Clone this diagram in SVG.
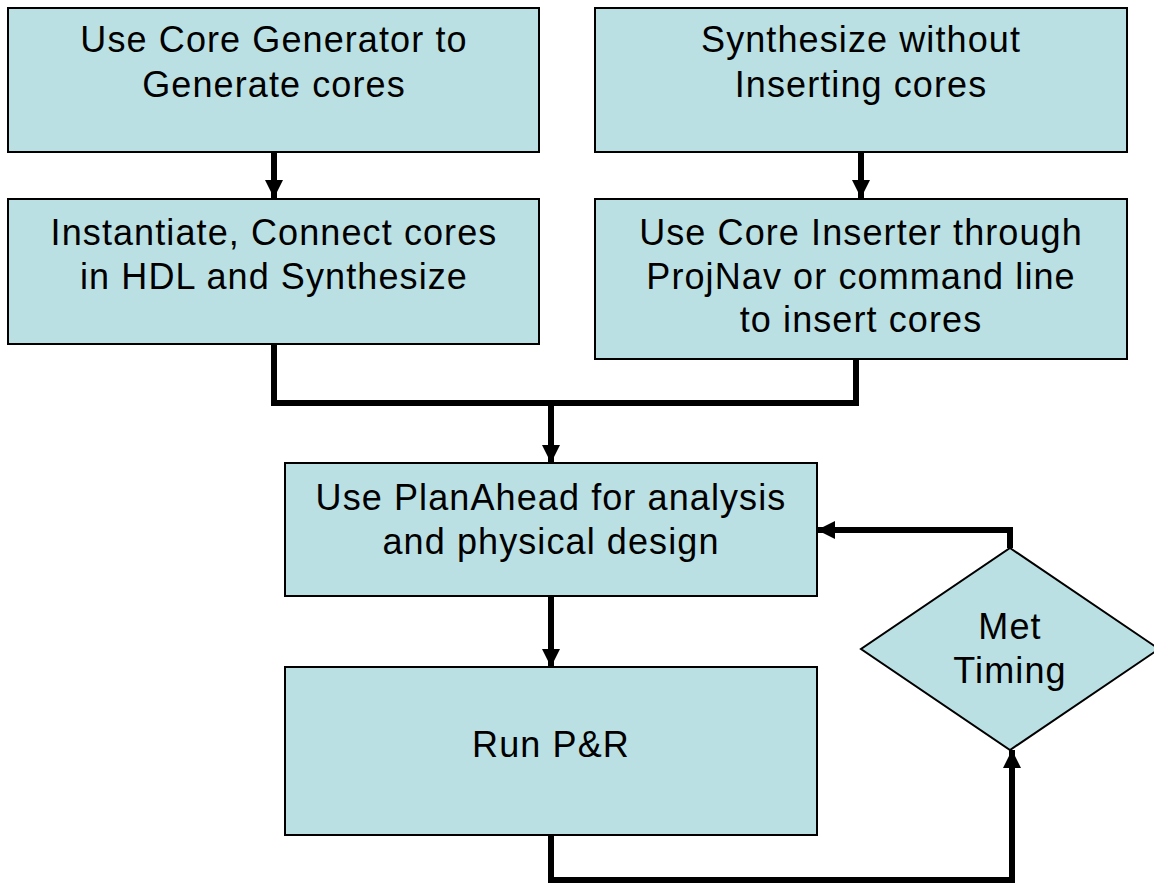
<svg xmlns="http://www.w3.org/2000/svg" width="1154" height="886" viewBox="0 0 1154 886">
<style>
.box{fill:#BBE0E3;stroke:#000;stroke-width:2}
.t{font-family:"Liberation Sans",Arial,sans-serif;font-size:36px;letter-spacing:1.1px;fill:#000;text-anchor:middle}
.c{fill:none;stroke:#000;stroke-width:6}
</style>
<defs>
<marker id="ah" markerUnits="userSpaceOnUse" markerWidth="18" markerHeight="18" viewBox="0 0 18 18" refX="18" refY="9" orient="auto">
<path d="M0,0 L18,9 L0,18 Z" fill="#000"/>
</marker>
</defs>
<rect width="1154" height="886" fill="#fff"/>
<g id="connectors">
<line class="c" x1="274" y1="152" x2="274" y2="198" marker-end="url(#ah)"/>
<line class="c" x1="861" y1="152" x2="861" y2="198" marker-end="url(#ah)"/>
<polyline class="c" points="274,344 274,403 856,403 856,360"/>
<line class="c" x1="551" y1="403" x2="551" y2="463" marker-end="url(#ah)"/>
<line class="c" x1="551" y1="596" x2="551" y2="667" marker-end="url(#ah)"/>
<polyline class="c" points="551,835 551,880 1012,880 1012,750" marker-end="url(#ah)"/>
<polyline class="c" points="1010,548 1010,530 817,530" marker-end="url(#ah)"/>
</g>
<g id="n1">
<rect class="box" x="8" y="8" width="531" height="144"/>
<text class="t" x="274" y="52">Use Core Generator to</text>
<text class="t" x="274" y="97">Generate cores</text>
</g>
<g id="n2">
<rect class="box" x="595" y="8" width="532" height="144"/>
<text class="t" x="861" y="52">Synthesize without</text>
<text class="t" x="861" y="97">Inserting cores</text>
</g>
<g id="n3">
<rect class="box" x="8" y="199" width="531" height="145"/>
<text class="t" x="274" y="245">Instantiate, Connect cores</text>
<text class="t" x="274" y="289">in HDL and Synthesize</text>
</g>
<g id="n4">
<rect class="box" x="595" y="199" width="532" height="160"/>
<text class="t" x="861" y="245">Use Core Inserter through</text>
<text class="t" x="861" y="289">ProjNav or command line</text>
<text class="t" x="861" y="332">to insert cores</text>
</g>
<g id="n5">
<rect class="box" x="285" y="463" width="532" height="133"/>
<text class="t" x="551" y="510">Use PlanAhead for analysis</text>
<text class="t" x="551" y="554">and physical design</text>
</g>
<g id="n6">
<rect class="box" x="285" y="667" width="532" height="168"/>
<text class="t" x="551" y="757">Run P&amp;R</text>
</g>
<g id="n7">
<polygon class="box" points="1010,548 1159,649 1010,750 861,649"/>
<text class="t" x="1010" y="639">Met</text>
<text class="t" x="1010" y="683">Timing</text>
</g>
</svg>
